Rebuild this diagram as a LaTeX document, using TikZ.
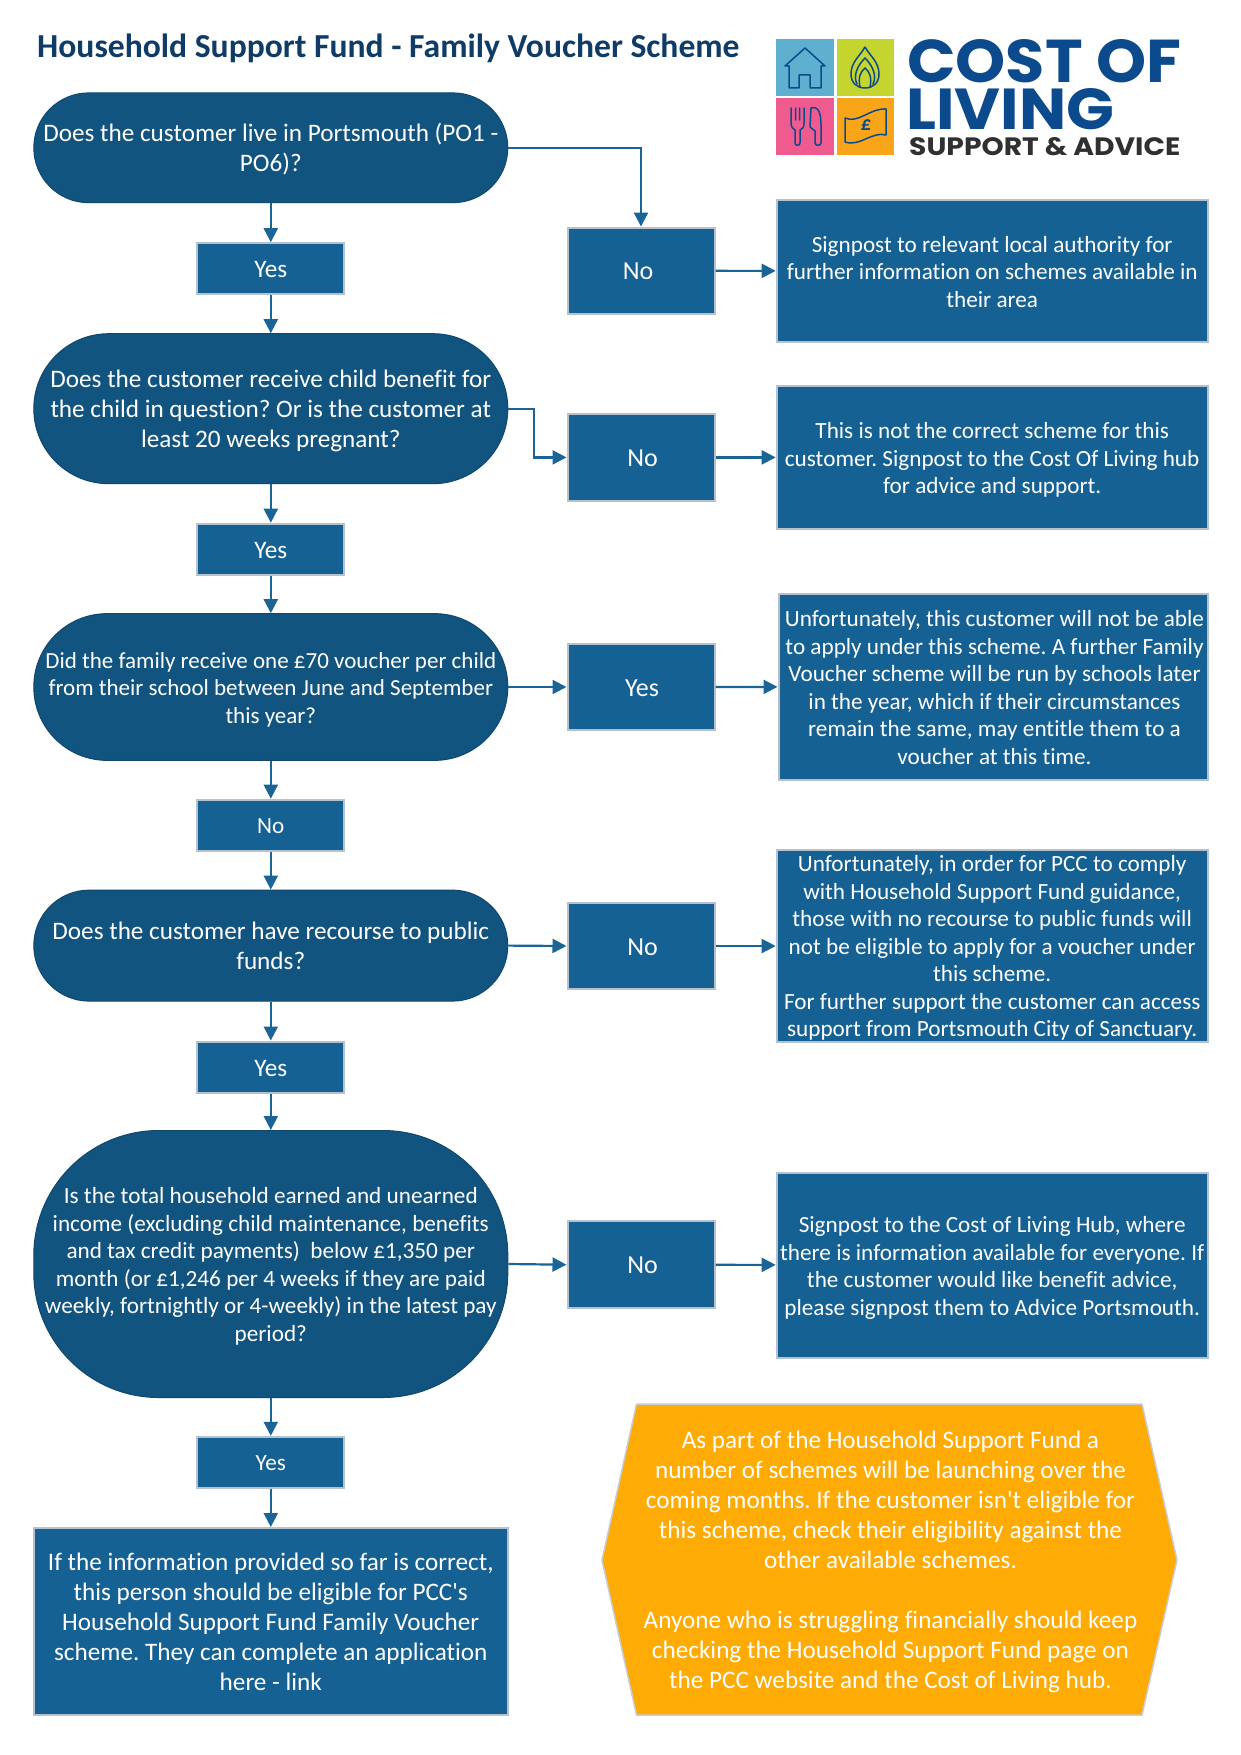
\documentclass[tikz,border=0pt]{standalone}
\usepackage{fontspec}
\usepackage{graphicx}
\setmainfont{Carlito}[Ligatures={TeXOff,NoCommon}]
\newfontfamily\logofont{Poppins}
\AtBeginDocument{\frenchspacing}
\usetikzlibrary{arrows.meta,calc}
\definecolor{termblue}{HTML}{125480}
\definecolor{boxblue}{HTML}{156193}
\definecolor{edgegrey}{HTML}{B5C2CE}
\definecolor{linkblue}{HTML}{1A6496}
\definecolor{titleblue}{HTML}{0F3C66}
\definecolor{hexorange}{HTML}{FFAB05}
\definecolor{hexedge}{HTML}{C9CDD2}
\definecolor{logonavy}{HTML}{0B4A8C}
\definecolor{logodark}{HTML}{303030}
\definecolor{logoblue}{HTML}{5FB0CF}
\definecolor{logogreen}{HTML}{C3D52E}
\definecolor{logopink}{HTML}{EF5B8E}
\definecolor{logoorange}{HTML}{F9A51A}
\newcommand{\bigtxt}{\fontsize{25.2}{30}\selectfont}
\newcommand{\midtxt}{\fontsize{26}{30}\selectfont}
\newcommand{\smalltxt}{\fontsize{23.2}{27.5}\selectfont}
\newcommand{\linestrut}{\rule[-0.2\baselineskip]{0pt}{\baselineskip}}
\tikzset{
  x=1pt,y=-1pt,
  plaintext/.style={text=white,align=center,inner sep=0pt},
  tall/.style={execute at begin node=\rule[-6pt]{0pt}{\dimexpr#1pt+6pt\relax}},
  choicetext/.style={plaintext,execute at begin node=\linestrut,execute at end node=\linestrut},
  termbox/.style={rectangle,rounded corners=#1,plaintext,fill=termblue,draw=termblue!85!black,line width=1pt,minimum width=474pt},
  choice/.style={rectangle,choicetext,fill=boxblue,draw=edgegrey,line width=2pt,minimum width=147pt,font=\bigtxt},
  infobox/.style={rectangle,plaintext,fill=boxblue,draw=edgegrey,line width=2pt,font=\smalltxt},
  link/.style={draw=linkblue,line width=2.2pt,-{Triangle[length=14pt,width=14pt]}},
  logoline/.style={draw=logonavy,line width=1.5pt,line join=round,line cap=round},
  logotext/.style={inner sep=0pt,anchor=north west,text=logonavy},
}
\begin{document}
\begin{tikzpicture}
\useasboundingbox (0,0) rectangle (1241,1755);
\fill[white] (0,0) rectangle (1241,1755);

% title
\node[anchor=base west,inner sep=0pt,text=titleblue,font=\fontsize{33.6}{38}\selectfont\bfseries] (title) at (37,57.5) {Household Support Fund - Family Voucher Scheme};

% logo
\fill[logoblue] (776,39) rectangle (834,96);
\fill[logogreen] (837,39) rectangle (894,96);
\fill[logopink] (776,98) rectangle (834,155);
\fill[logoorange] (837,98) rectangle (894,155);
\draw[logoline] (785,66) -- (805,48) -- (825,66) -- (821,66) (785,66) -- (789,66) -- (789,88) -- (799,88) -- (799,75) -- (810,75) -- (810,88) -- (821,88) -- (821,66);
\draw[logoline] (865,47) .. controls (870,56) and (879,62) .. (879,74) .. controls (879,83) and (873,88) .. (865,88) .. controls (857,88) and (851,83) .. (851,74) .. controls (851,62) and (860,56) .. (865,47);
\draw[logoline] (857,84) .. controls (853,76) and (857,66) .. (865,58) .. controls (873,66) and (877,76) .. (873,84);
\draw[logoline] (860,87) .. controls (858,78) and (860,72) .. (865,68) .. controls (870,72) and (872,78) .. (870,87);
\draw[logoline] (791,108) -- (791,123) .. controls (791,128) and (794,129) .. (795,130) -- (795,143) .. controls (795,146) and (800,146) .. (800,143) -- (800,130) .. controls (802,129) and (804,128) .. (804,123) -- (804,108) (795.5,108) -- (795.5,120) (799.5,108) -- (799.5,120);
\draw[logoline] (811,108) .. controls (818,106) and (821,112) .. (821,125) -- (821,143) .. controls (821,146) and (815,146) .. (815,143) -- (815,131) -- (810,127) -- cycle;
\draw[logoline] (845,118) .. controls (858,124) and (870,108) .. (886,109) -- (886,135) .. controls (872,131) and (860,147) .. (845,142) -- cycle;
\node[inner sep=0pt,text=logonavy,font=\fontsize{20}{20}\selectfont\bfseries\itshape] (pound) at (866,125.5) {£};
\node[logotext] (logoa) at (907,39) {\resizebox{274pt}{43pt}{\logofont\bfseries COST OF}};
\node[logotext] (logob) at (906,88) {\resizebox{208pt}{41pt}{\logofont\bfseries LIVING}};
\node[logotext,text=logodark] (logoc) at (909,137) {\resizebox{271pt}{18pt}{\logofont\bfseries SUPPORT \& ADVICE}};

% left column
\node[termbox=54.9pt,tall=53.4,minimum height=109.8pt,font=\bigtxt] (t1) at (270.8,147.8) {Does the customer live in Portsmouth (PO1 -\\PO6)?};
\node[choice,minimum height=51pt] (y1) at (270.8,268.7) {Yes};
\node[termbox=75pt,tall=83.4,minimum height=150pt,font=\bigtxt] (t2) at (270.8,408.7) {Does the customer receive child benefit for\\the child in question? Or is the customer at\\least 20 weeks pregnant?};
\node[choice,minimum height=51pt] (y2) at (270.8,549.2) {Yes};
\node[termbox=73.3pt,tall=78.4,minimum height=146.7pt,font=\fontsize{23}{27.5}\selectfont] (t3) at (270.8,687) {Did the family receive one £70 voucher per child\\from their school between June and September\\this year?};
\node[choice,minimum height=51pt,font=\smalltxt] (y3) at (270.8,825.2) {No};
\node[termbox=55.5pt,tall=53.4,minimum height=111pt,font=\bigtxt] (t4) at (270.8,945.6) {Does the customer have recourse to public\\funds?};
\node[choice,minimum height=51pt] (y4) at (270.8,1067) {Yes};
\node[termbox=125pt,tall=160.9,minimum height=267pt,font=\smalltxt] (t5) at (270.8,1264) {Is the total household earned and unearned\\income (excluding child maintenance, benefits\\and tax credit payments)~ below £1,350 per\\month (or £1,246 per 4 weeks if they are paid\\weekly, fortnightly or 4-weekly) in the latest pay\\period?};
\node[choice,minimum height=51pt,font=\smalltxt] (y5) at (270.8,1462.3) {Yes};
\node[infobox,tall=143.4,minimum width=474pt,minimum height=187pt,font=\bigtxt] (final) at (270.8,1621.5) {If the information provided so far is correct,\\this person should be eligible for PCC's\\Household Support Fund Family Voucher\\scheme. They can complete an application\\here - link};

% middle column
\node[choice,minimum height=86.5pt,font=\midtxt] (n1) at (641,270.8) {No\hspace*{6pt}};
\node[choice,minimum height=86.5pt,font=\midtxt] (n2) at (641,457.4) {\hspace*{3pt}No};
\node[choice,minimum height=86.5pt,font=\midtxt] (n3) at (641,687) {\hspace*{2pt}Yes};
\node[choice,minimum height=86.5pt,font=\midtxt] (n4) at (641,946) {\hspace*{3pt}No};
\node[choice,minimum height=86.5pt,font=\midtxt] (n5) at (641,1264.7) {\hspace*{3pt}No};

% right column
\node[infobox,tall=78.4,minimum width=431pt,minimum height=142pt] (s1) at (992.2,271) {Signpost to relevant local authority for\\further information on schemes available in\\their area};
\node[infobox,tall=78.4,minimum width=431pt,minimum height=143pt] (s2) at (992.2,457.4) {This is not the correct scheme for this\\customer. Signpost to the Cost Of Living hub\\for advice and support.};
\node[infobox,tall=160.9,minimum width=429pt,minimum height=186pt] (s3) at (993,686.7) {\hspace*{3pt}Unfortunately, this customer will not be able\\\hspace*{3pt}to apply under this scheme. A further Family\\\hspace*{3pt}Voucher scheme will be run by schools later\\\hspace*{3pt}in the year, which if their circumstances\\\hspace*{3pt}remain the same, may entitle them to a\\\hspace*{3pt}voucher at this time.};
\node[rectangle,fill=boxblue,draw=edgegrey,line width=2pt,minimum width=431pt,minimum height=192pt] (s4) at (992.2,946) {};
\node[plaintext,font=\smalltxt] (s4text) at ($(s4.center)+(0,2)$) {Unfortunately, in order for PCC to comply\\with Household Support Fund guidance,\\those with no recourse to public funds will\\not be eligible to apply for a voucher under\\this scheme.\\For further support the customer can access\\support from Portsmouth City of Sanctuary.};
\node[infobox,tall=105.9,minimum width=431pt,minimum height=185pt] (s5) at (992.2,1265.2) {Signpost to the Cost of Living Hub, where\\there is information available for everyone. If\\the customer would like benefit advice,\\please signpost them to Advice Portsmouth.};

% orange panel
\draw[fill=hexorange,draw=hexedge,line width=1.5pt,line join=round] (636.5,1404) -- (1142,1404) -- (1177,1560) -- (1142,1715) -- (636.5,1715) -- (602,1560) -- cycle;
\node[plaintext,tall=263.4,font=\bigtxt] (hex) at (890.5,1559.5) {As part of the Household Support Fund a\\number of schemes will be launching over the\\coming months. If the customer isn't eligible for\\this scheme, check their eligibility against the\\other available schemes.\\[30pt]Anyone who is struggling financially should keep\\checking the Household Support Fund page on\\the PCC website and the Cost of Living hub.};

% connectors
\draw[link] (t1) -- (y1);
\draw[link] (y1) -- (t2);
\draw[link] (t2) -- (y2);
\draw[link] (y2) -- (t3);
\draw[link] (t3) -- (y3);
\draw[link] (y3) -- (t4);
\draw[link] (t4) -- (y4);
\draw[link] (y4) -- (t5);
\draw[link] (t5) -- (y5);
\draw[link] (y5) -- (final);
\draw[link] (t1.east) -| (n1.north);
\draw[link] (t2.east) -- ++(26,0) |- (n2.west);
\draw[link] (t3.east) -- (n3.west);
\draw[link] (t4.east) -- (n4.west);
\draw[link] (t5.east) -- (n5.west);
\draw[link] (n1) -- (s1);
\draw[link] (n2) -- (s2);
\draw[link] (n3) -- (s3);
\draw[link] (n4) -- (s4);
\draw[link] (n5) -- (s5);
\end{tikzpicture}
\end{document}
